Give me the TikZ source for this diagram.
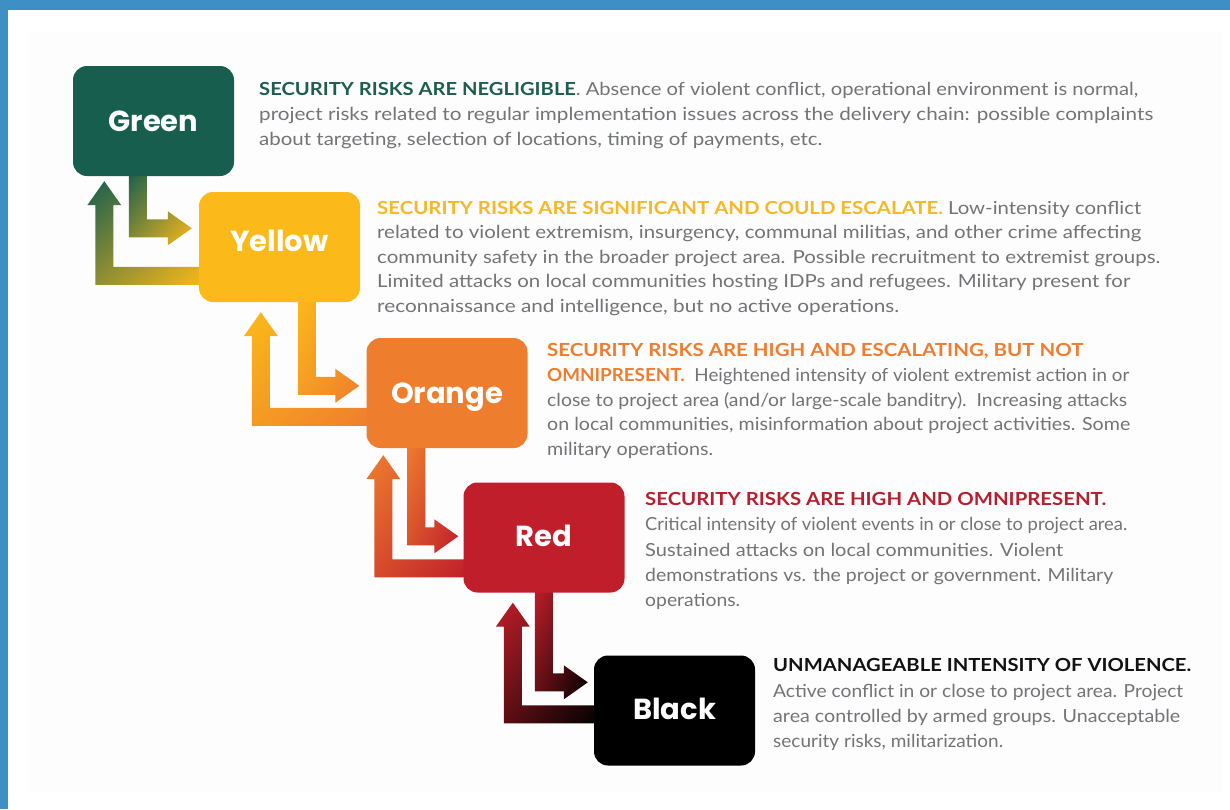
\documentclass[tikz,border=0pt]{standalone}
\usepackage{fontspec}
\usepackage{graphicx}
\usetikzlibrary{calc,shadings}
\newfontfamily\bodyfont{Lato}
\newfontfamily\labelfont{Poppins}

\definecolor{cgreen}{HTML}{185E4E}
\definecolor{cyellow}{HTML}{FBBA19}
\definecolor{corange}{HTML}{EF7D2E}
\definecolor{cred}{HTML}{C01E2A}
\definecolor{cblack}{HTML}{000000}
\definecolor{hgreen}{HTML}{1E5E50}
\definecolor{hyellow}{HTML}{F6B825}
\definecolor{horange}{HTML}{EF7D30}
\definecolor{hred}{HTML}{B71F2E}
\definecolor{hblack}{HTML}{121212}
\definecolor{textgray}{HTML}{737477}
\definecolor{bluebar}{HTML}{3D8FC4}
\definecolor{panel}{HTML}{FDFDFD}

% one line of running text, stretched to a given width
\newcommand{\fitw}[2]{\resizebox{#1}{\height}{#2}}
% coloured bold heading inside a line
\newcommand{\hd}[2]{{\bfseries\color{#1}#2}}

% arrow leaving an upper box downward and turning right into the next box
% #1 top of shaft, #2 tip, #3 upper colour, #4 lower colour
\newcommand{\riskdown}[4]{%
  \shade[upper left=#3, lower right=#4, upper right=#3!50!#4, lower left=#3!50!#4]
    ($(#1)+(-9,0)$) -- ($(#1 |- #2)+(-9,9)$) -- ($(#2)+(-24,9)$) -- ($(#2)+(-24,17)$)
    -- (#2) -- ($(#2)+(-24,-17)$) -- ($(#2)+(-24,-9)$) -- ($(#1 |- #2)+(9,-9)$)
    -- ($(#1)+(9,0)$) -- cycle;}
% arrow leaving a lower box to the left and turning up into the box above
% #1 right end of shaft, #2 tip, #3 upper colour, #4 lower colour
\newcommand{\riskup}[4]{%
  \shade[upper left=#3, lower right=#4, upper right=#3!50!#4, lower left=#3!50!#4]
    ($(#1)+(0,-9)$) -- ($(#2 |- #1)+(9,-9)$) -- ($(#2)+(9,24)$) -- ($(#2)+(17,24)$)
    -- (#2) -- ($(#2)+(-17,24)$) -- ($(#2)+(-9,24)$) -- ($(#2 |- #1)+(-9,9)$)
    -- ($(#1)+(0,9)$) -- cycle;}

\pgfdeclarelayer{back}
\pgfdeclarelayer{bg}
\pgfsetlayers{back,bg,main}

\begin{document}
\begin{tikzpicture}[x=1pt,y=-1pt,
  level/.style={rounded corners=14pt, inner sep=0pt, minimum width=161pt,
    minimum height=110pt, text height=21pt, text depth=0pt, text=white,
    font=\labelfont\bfseries\fontsize{29}{30}\selectfont},
  txt/.style={anchor=base west, inner sep=0pt, text=textgray,
    font=\bodyfont\fontsize{18}{22}\selectfont}]
\useasboundingbox (0,0) rectangle (1230,809);

\begin{pgfonlayer}{back}
  \fill[white] (0,0) rectangle (1230,809);
  \fill[panel] (28,32) rectangle (1223,793);
  \fill[bluebar] (0,0) rectangle (1230,10);
  \fill[bluebar] (0,0) rectangle (8,809);
\end{pgfonlayer}

% the five alert levels
\node[level, fill=cgreen]  (green)  at (153.5,121)   {Green};
\node[level, fill=cyellow] (yellow) at (279.5,247)   {\raisebox{6.5pt}{Yellow}};
\node[level, fill=corange] (orange) at (447,393)     {Orange};
\node[level, fill=cred]    (red)    at (544,537.5)   {\raisebox{2pt}{Red}};
\node[level, fill=cblack]  (black)  at (674.5,710.5) {\raisebox{2pt}{Black}};

% escalation and de-escalation arrows between neighbouring levels
\coordinate (gyv) at ($(green.south west)+(65,-6)$);
\coordinate (gyt) at ($(yellow.north west)+(-7,36.5)$);
\coordinate (ygr) at ($(yellow.north west)+(6,84)$);
\coordinate (ygt) at ($(green.south west)+(31.5,5)$);

\coordinate (yov) at ($(yellow.south west)+(108,-6)$);
\coordinate (yot) at ($(orange.north west)+(-7,48)$);
\coordinate (oyr) at ($(orange.north west)+(6,79)$);
\coordinate (oyt) at ($(yellow.south west)+(62,10)$);

\coordinate (orv) at ($(orange.south west)+(50,-6)$);
\coordinate (ort) at ($(red.north west)+(-5,54)$);
\coordinate (ror) at ($(red.north west)+(6,86)$);
\coordinate (rot) at ($(orange.south west)+(17,7)$);

\coordinate (rbv) at ($(red.south west)+(80.5,-6)$);
\coordinate (rbt) at ($(black.north west)+(-6,27)$);
\coordinate (brr) at ($(black.north west)+(6,59)$);
\coordinate (brt) at ($(red.south west)+(49.5,10)$);

\begin{pgfonlayer}{bg}
  \riskdown{gyv}{gyt}{cgreen}{cyellow}
  \riskup{ygr}{ygt}{cgreen}{cyellow}
  \riskdown{yov}{yot}{cyellow}{corange}
  \riskup{oyr}{oyt}{cyellow}{corange}
  \riskdown{orv}{ort}{corange}{cred}
  \riskup{ror}{rot}{corange}{cred}
  \riskdown{rbv}{rbt}{cred}{cblack}
  \riskup{brr}{brt}{cred}{cblack}
\end{pgfonlayer}

% descriptions
\node[txt] (g1) at (259,95)  {\fitw{879pt}{\hd{hgreen}{SECURITY RISKS ARE NEGLIGIBLE}. Absence of violent conflict, operational environment is normal,}};
\node[txt] (g2) at (259,120) {\fitw{894pt}{project risks related to regular implementation issues across the delivery chain: possible complaints}};
\node[txt] (g3) at (259,145) {\fitw{563pt}{about targeting, selection of locations, timing of payments, etc.}};

\node[txt] (y1) at (377,214)   {\fitw{764pt}{\hd{hyellow}{SECURITY RISKS ARE SIGNIFICANT AND COULD ESCALATE.} Low-intensity conflict}};
\node[txt] (y2) at (377,238.5) {\fitw{764pt}{related to violent extremism, insurgency, communal militias, and other crime affecting}};
\node[txt] (y3) at (377,263)   {\fitw{783pt}{community safety in the broader project area. Possible recruitment to extremist groups.}};
\node[txt] (y4) at (377,287.5) {\fitw{753pt}{Limited attacks on local communities hosting IDPs and refugees. Military present for}};
\node[txt] (y5) at (377,312)   {\fitw{522pt}{reconnaissance and intelligence, but no active operations.}};

\node[txt] (o1) at (547,356) {\fitw{536pt}{\hd{horange}{SECURITY RISKS ARE HIGH AND ESCALATING, BUT NOT}}};
\node[txt] (o2) at (547,381) {\fitw{582pt}{\hd{horange}{OMNIPRESENT.}\ \ Heightened intensity of violent extremist action in or}};
\node[txt] (o3) at (547,406) {\fitw{580pt}{close to project area (and/or large-scale banditry).\ \ Increasing attacks}};
\node[txt] (o4) at (547,430) {\fitw{583pt}{on local communities, misinformation about project activities. Some}};
\node[txt] (o5) at (547,455) {\fitw{166pt}{military operations.}};

\node[txt] (r1) at (645,505) {\fitw{461pt}{\hd{hred}{SECURITY RISKS ARE HIGH AND OMNIPRESENT.}}};
\node[txt] (r2) at (645,530) {\fitw{482pt}{Critical intensity of violent events in or close to project area.}};
\node[txt] (r3) at (645,556) {\fitw{418pt}{Sustained attacks on local communities. Violent}};
\node[txt] (r4) at (645,581) {\fitw{468pt}{demonstrations vs. the project or government. Military}};
\node[txt] (r5) at (645,606) {\fitw{95pt}{operations.}};

\node[txt] (b1) at (773,671) {\fitw{418pt}{\hd{hblack}{UNMANAGEABLE INTENSITY OF VIOLENCE.}}};
\node[txt] (b2) at (773,697) {\fitw{410pt}{Active conflict in or close to project area. Project}};
\node[txt] (b3) at (773,722) {\fitw{407pt}{area controlled by armed groups. Unacceptable}};
\node[txt] (b4) at (773,747) {\fitw{230pt}{security risks, militarization.}};
\end{tikzpicture}
\end{document}
